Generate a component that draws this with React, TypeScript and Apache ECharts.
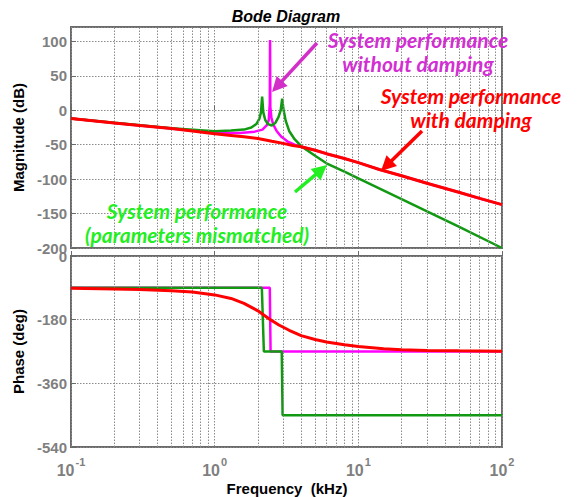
import React, { useEffect, useRef } from "react";
import * as echarts from "echarts";

// ---------- data (frequency in kHz) ----------
const redFreq = [0.1, 0.2, 0.3, 0.5, 0.7, 1, 1.3, 1.6, 2, 2.5, 3, 3.5, 4, 5, 6, 8, 10, 14, 20, 30, 50, 70, 100];
const redMag = [-12, -18.5, -22, -26.5, -30, -34, -36.5, -38.5, -41, -45, -48, -51, -53, -58, -63, -70, -76, -86, -95, -106, -119, -128, -137];

const greenFreq = [0.1, 0.2, 0.5, 1, 1.3, 1.6, 1.8, 1.95, 2.05, 2.1, 2.14, 2.18, 2.25, 2.35, 2.5, 2.65, 2.78, 2.88, 2.95, 3.02, 3.12, 3.3, 3.6, 4, 5, 6, 8, 10, 20, 50, 100];
const greenMag = [-12, -18, -26, -30.5, -29.5, -28, -25, -20, -12, -3, 20, -3, -14, -20, -22, -18, -10, 0, 17, 0, -15, -30, -42, -52, -66, -77, -89, -99, -129, -169, -200];

const magentaFreq = [0.1, 0.2, 0.5, 1, 1.5, 1.9, 2.15, 2.3, 2.38, 2.42, 2.43, 2.44, 2.48, 2.55, 2.7, 2.9, 3.2, 3.6, 4, 5, 6, 8, 10, 14, 20, 30, 50, 70, 100];
const magentaMag = [-12, -18.5, -26.5, -33, -33, -31, -28, -22, -14, 10, 102, 5, -10, -20, -30, -38, -45, -50, -53, -58, -63, -70, -76, -86, -95, -106, -119, -128, -137];

const redPhaseFreq = [0.1, 0.2, 0.3, 0.5, 0.7, 1, 1.3, 1.6, 2, 2.4, 2.8, 3.3, 4, 5, 6, 8, 10, 15, 20, 30, 50, 100];
const redPhase = [-91, -93, -95, -98, -102, -110, -120, -134, -155, -178, -195, -210, -225, -236, -243, -251, -256, -262, -265, -267, -268, -269];

const magentaPhaseFreq = [0.1, 2.42, 2.45, 100];
const magentaPhase = [-90, -90, -270, -270];

const greenPhaseFreq = [0.1, 2.13, 2.2, 2.93, 2.97, 100];
const greenPhase = [-90, -90, -270, -270, -450, -450];

const minorFreqs = [0.2, 0.3, 0.4, 0.5, 0.6, 0.7, 0.8, 0.9, 2, 3, 4, 5, 6, 7, 8, 9, 20, 30, 40, 50, 60, 70, 80, 90];
const magTicks = { min: -200, max: 121, interval: 50 };
const phaseTicks = { min: -540, max: 0, interval: 180 };

const FONT = "Liberation Sans, Arial, sans-serif";
const GRID_COLOR = "#8a8a8a";
const FRAME = "#6a6a6a";
const LABEL_GRAY = "#7f7f7f";

function zip(xs: number[], ys: number[]) {
  return xs.map((x, i) => [x, ys[i]]);
}

function arrow(x1: number, y1: number, x2: number, y2: number, color: string) {
  const dx = x2 - x1, dy = y2 - y1;
  const L = Math.hypot(dx, dy);
  const ux = dx / L, uy = dy / L;
  const hl = 15, hw = 7.5;
  const bx = x2 - ux * hl, by = y2 - uy * hl;
  return [
    { type: "line", shape: { x1, y1, x2: bx + ux * 2, y2: by + uy * 2 }, style: { stroke: color, lineWidth: 3.5 }, z: 10 },
    {
      type: "polygon",
      shape: { points: [[x2, y2], [bx - uy * hw, by + ux * hw], [bx + uy * hw, by - ux * hw]] },
      style: { fill: color },
      z: 10,
    },
  ];
}

export default function App() {
  const ref = useRef<HTMLDivElement>(null);
  useEffect(() => {
    if (!ref.current) return;
    const chart = echarts.init(ref.current, undefined, { renderer: "svg" });

    const xAxisBase = (gridIndex: number, showLabels: boolean) => ({
      type: "log",
      logBase: 10,
      gridIndex,
      min: 0.1,
      max: 100,
      axisLine: { show: false },
      axisTick: { show: true, inside: true, length: 5, lineStyle: { color: FRAME } },
      splitLine: { show: true, lineStyle: { color: GRID_COLOR, type: [1.5, 1.5], width: 1 } },
      axisLabel: showLabels
        ? {
            show: true,
            margin: 9,
            formatter: (v: number) => `{b|10}{s|${Math.round(Math.log10(v))}}`,
            rich: {
              b: { fontSize: 16, fontWeight: "bold", color: LABEL_GRAY, fontFamily: FONT, verticalAlign: "bottom", lineHeight: 22 },
              s: { fontSize: 11, fontWeight: "bold", color: LABEL_GRAY, fontFamily: FONT, verticalAlign: "top", lineHeight: 22, padding: [0, 0, 8, 1] },
            },
          }
        : { show: false },
    });

    const yAxisBase = (gridIndex: number, t: { min: number; max: number; interval: number }, name: string) => ({
      type: "value",
      gridIndex,
      min: t.min,
      max: t.max,
      interval: t.interval,
      name,
      nameLocation: "middle",
      nameGap: 37,
      nameRotate: 90,
      nameTextStyle: { fontSize: 15, fontWeight: "bold", color: "#000", fontFamily: FONT },
      axisLine: { show: false },
      axisTick: { show: true, inside: true, length: 5, lineStyle: { color: FRAME } },
      splitLine: { show: true, lineStyle: { color: GRID_COLOR, type: [1.5, 1.5], width: 1 } },
      axisLabel: {
        show: true,
        margin: 4,
        showMaxLabel: t.max === 0,
        fontSize: 15,
        fontWeight: "bold",
        color: LABEL_GRAY,
        fontFamily: FONT,
      },
    });

    const minorGrid = (xi: number, yi: number, y0: number) => ({
      type: "line",
      xAxisIndex: xi,
      yAxisIndex: yi,
      data: [[0.1, y0]],
      symbol: "none",
      silent: true,
      z: 1,
      lineStyle: { opacity: 0 },
      markLine: {
        silent: true,
        symbol: "none",
        label: { show: false },
        lineStyle: { color: GRID_COLOR, type: [1.5, 1.5], width: 1 },
        data: minorFreqs.map((f) => ({ xAxis: f })),
      },
    });

    const line = (xi: number, yi: number, data: number[][], color: string, width: number, z: number) => ({
      type: "line",
      xAxisIndex: xi,
      yAxisIndex: yi,
      data,
      symbol: "none",
      z,
      lineStyle: { color, width },
      itemStyle: { color },
    });

    const annotation = (x: number, y: number, text: string, color: string) => ({
      type: "text",
      x,
      y,
      z: 10,
      style: {
        text,
        fill: color,
        font: "italic bold 21px Lato, Liberation Sans, sans-serif",
        align: "center",
        verticalAlign: "middle",
        lineHeight: 24,
      },
    });

    const option = {
      animation: false,
      backgroundColor: "#ffffff",
      grid: [
        { left: 71, top: 27, width: 431, height: 221, show: true, borderColor: FRAME, borderWidth: 2, backgroundColor: "transparent" },
        { left: 71, top: 256, width: 431, height: 191, show: true, borderColor: FRAME, borderWidth: 2, backgroundColor: "transparent" },
      ],
      xAxis: [xAxisBase(0, false), xAxisBase(1, true)],
      yAxis: [yAxisBase(0, magTicks, "Magnitude (dB)"), yAxisBase(1, phaseTicks, "Phase (deg)")],
      series: [
        minorGrid(0, 0, -200),
        minorGrid(1, 1, -540),
        line(0, 0, zip(magentaFreq, magentaMag), "#ff00ff", 2.5, 3),
        line(0, 0, zip(greenFreq, greenMag), "#119a11", 2.5, 4),
        line(0, 0, zip(redFreq, redMag), "#ff0000", 3, 5),
        line(1, 1, zip(magentaPhaseFreq, magentaPhase), "#ff00ff", 2.5, 3),
        line(1, 1, zip(greenPhaseFreq, greenPhase), "#119a11", 2.5, 4),
        line(1, 1, zip(redPhaseFreq, redPhase), "#ff0000", 3, 5),
      ],
      graphic: [
        {
          type: "text",
          x: 286,
          y: 16,
          style: { text: "Bode Diagram", fill: "#000", font: `italic bold 16px ${FONT}`, align: "center", verticalAlign: "middle" },
        },
        {
          type: "text",
          x: 287,
          y: 488,
          style: { text: "Frequency  (kHz)", fill: "#000", font: `bold 15px ${FONT}`, align: "center", verticalAlign: "middle" },
        },
        annotation(418, 51, "System performance\nwithout damping", "#d22fd2"),
        annotation(471, 107, "System performance\nwith damping", "#ff0000"),
        annotation(197, 222, "System performance\n(parameters mismatched)", "#22ee22"),
        ...arrow(317, 43, 272, 92, "#d22fc8"),
        ...arrow(422, 131, 381, 171, "#ff0000"),
        ...arrow(295, 192, 327, 165, "#22ee22"),
      ],
    };

    chart.setOption(option as any);
    return () => chart.dispose();
  }, []);

  return (
    <div
      ref={ref}
      style={{ position: "fixed", left: 0, top: 0, width: 578, height: 497, background: "#fff" }}
    />
  );
}
